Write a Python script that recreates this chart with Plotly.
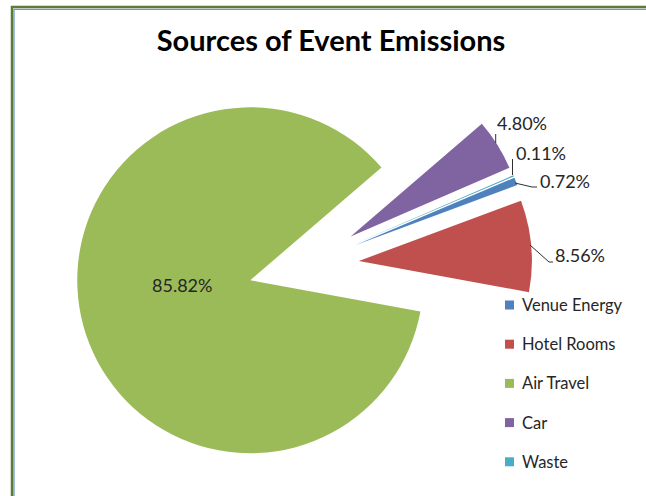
import plotly.graph_objects as go

# ---- data ----
categories = ["Venue Energy", "Hotel Rooms", "Air Travel", "Car", "Waste"]
values = [0.72, 8.56, 85.82, 4.80, 0.11]
label_texts = ["0.72%", "8.56%", "85.82%", "4.80%", "0.11%"]
colors = ["#4F81BD", "#C0504D", "#9BBB59", "#8064A2", "#4BACC6"]

W, H = 646, 496
FONT = "Lato, 'Open Sans', sans-serif"
TXT = "#262626"


def px(x):
    return x / W


def py(y):
    return 1 - y / H


# pie geometry (pixels)
cx, cy, radius, pull = 303.7, 265.8, 173.0, 0.32
half = radius * (1 + pull)

fig = go.Figure()
fig.add_trace(go.Pie(
    labels=categories,
    values=values,
    sort=False,
    direction="clockwise",
    rotation=67,
    pull=pull,
    marker=dict(colors=colors, line=dict(width=0)),
    textinfo="none",
    hoverinfo="label+percent",
    showlegend=False,
    domain=dict(x=[px(cx - half), px(cx + half)],
                y=[py(cy + half), py(cy - half)]),
))

# data label placement (pixels): category -> (x, y, xanchor)
label_pos = {
    "Air Travel": (182, 285, "center"),
    "Car": (495, 123, "left"),
    "Waste": (514, 153, "left"),
    "Venue Energy": (538, 181, "left"),
    "Hotel Rooms": (553, 255, "left"),
}
leaders = {
    "Car": [(495.7, 143), (495.7, 134)],
    "Waste": [(512.5, 175), (512.5, 159)],
    "Venue Energy": [(515, 183), (532, 187), (537, 187)],
    "Hotel Rooms": [(530, 245), (549, 262), (553, 262)],
}

annotations = []
shapes = []
for cat, txt in zip(categories, label_texts):
    x, y, xa = label_pos[cat]
    annotations.append(dict(
        x=px(x), y=py(y), xref="paper", yref="paper", text=txt,
        showarrow=False, xanchor=xa, yanchor="middle",
        font=dict(family=FONT, size=18, color=TXT)))
    if cat in leaders:
        pts = leaders[cat]
        path = "M " + " L ".join(f"{px(a)},{py(b)}" for a, b in pts)
        shapes.append(dict(type="path", path=path, xref="paper", yref="paper",
                           line=dict(color="#303030", width=1)))

# manual legend
leg_x, leg_y0, leg_dy, sq = 509.5, 305, 39.2, 9
for i, (cat, col) in enumerate(zip(categories, colors)):
    yc = leg_y0 + i * leg_dy
    shapes.append(dict(type="rect", xref="paper", yref="paper",
                       x0=px(leg_x - sq / 2), x1=px(leg_x + sq / 2),
                       y0=py(yc + sq / 2), y1=py(yc - sq / 2),
                       fillcolor=col, line=dict(width=0)))
    annotations.append(dict(
        x=px(519.5), y=py(yc), xref="paper", yref="paper", text=cat,
        showarrow=False, xanchor="left", yanchor="middle",
        font=dict(family=FONT, size=16.5, color=TXT)))

# chart border
shapes.append(dict(type="rect", xref="paper", yref="paper",
                   x0=px(12), x1=px(W + 20), y0=py(H + 20), y1=py(7),
                   line=dict(color="#5E7B33", width=2.5), fillcolor="rgba(0,0,0,0)"))
shapes.append(dict(type="rect", xref="paper", yref="paper",
                   x0=px(14), x1=px(W + 20), y0=py(H + 20), y1=py(9.3),
                   line=dict(color="#4A7EBB", width=1), fillcolor="rgba(0,0,0,0)"))

fig.update_layout(
    width=W, height=H,
    margin=dict(l=0, r=0, t=0, b=0),
    paper_bgcolor="white", plot_bgcolor="white",
    title=dict(text="<b>Sources of Event Emissions</b>", x=px(331), xanchor="center",
               y=py(41), yanchor="middle",
               font=dict(family=FONT, size=29, color="#000000")),
    annotations=annotations,
    shapes=shapes,
)

fig.write_html("out.html")
